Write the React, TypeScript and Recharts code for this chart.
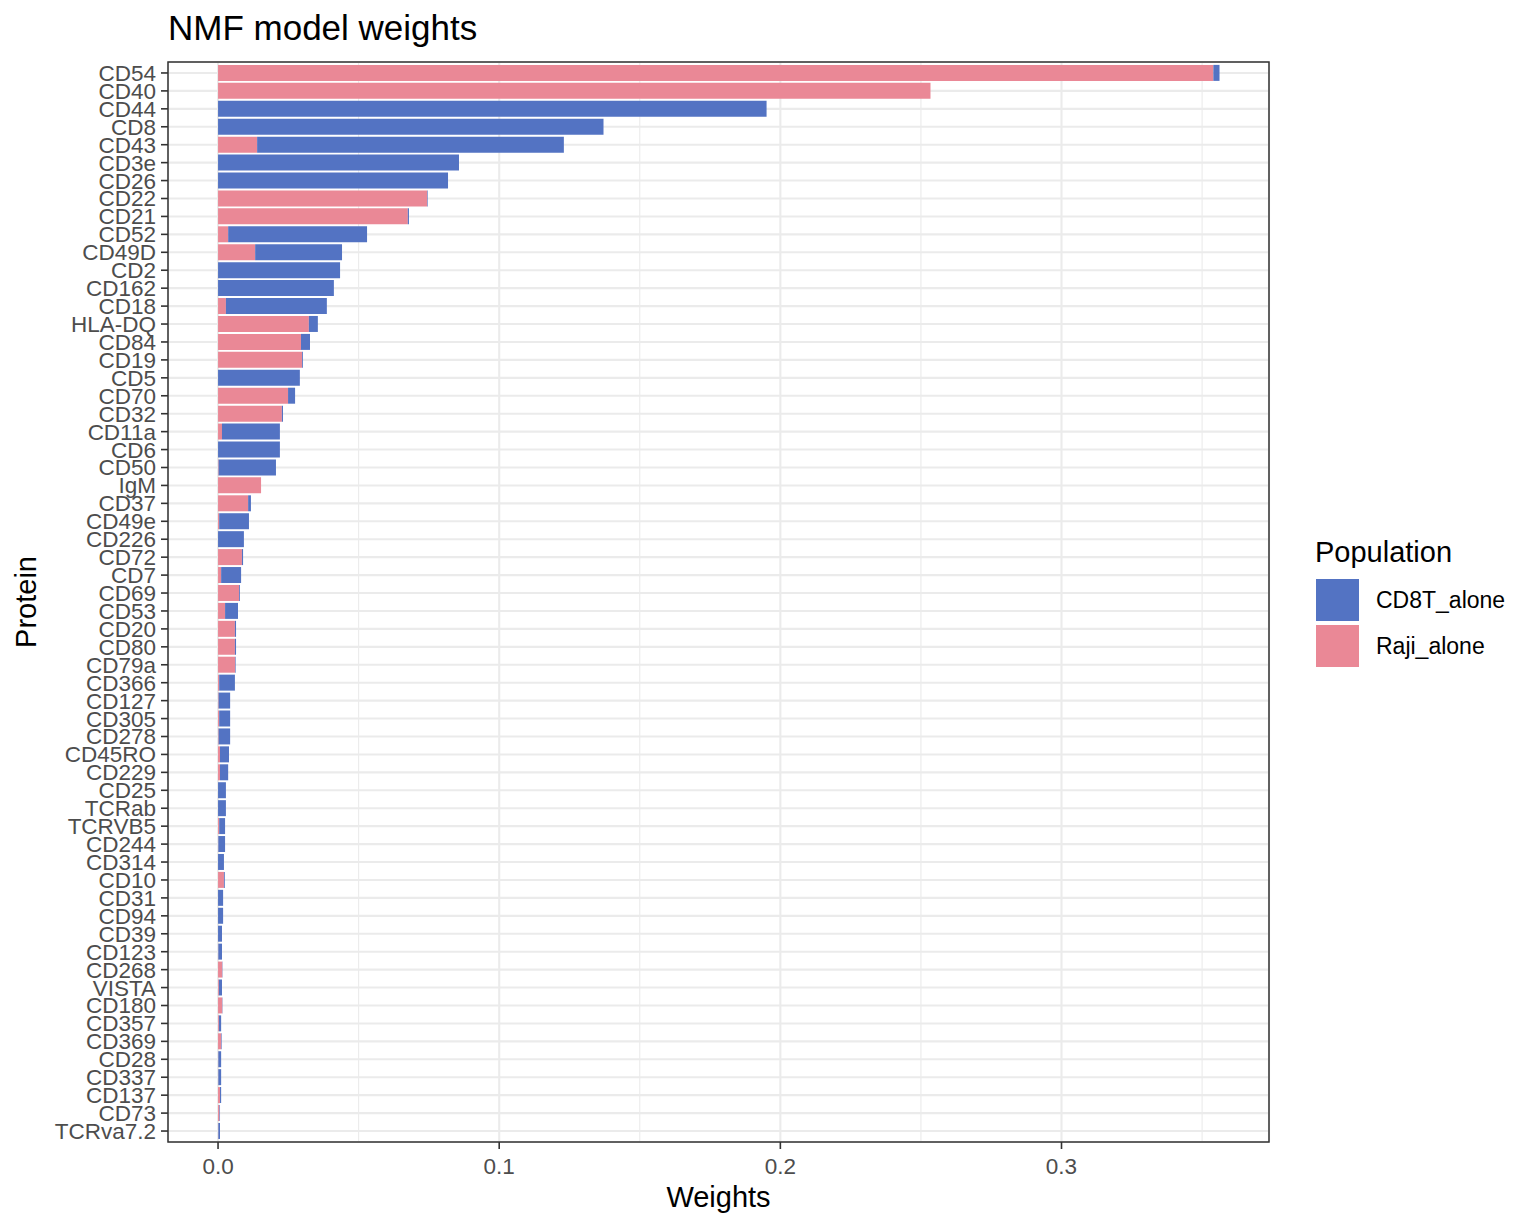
import React from 'react';
import { BarChart, Bar, XAxis, YAxis, CartesianGrid } from 'recharts';

const proteins = [
  'CD54', 'CD40', 'CD44', 'CD8', 'CD43', 'CD3e', 'CD26', 'CD22', 'CD21', 'CD52',
  'CD49D', 'CD2', 'CD162', 'CD18', 'HLA-DQ', 'CD84', 'CD19', 'CD5', 'CD70', 'CD32',
  'CD11a', 'CD6', 'CD50', 'IgM', 'CD37', 'CD49e', 'CD226', 'CD72', 'CD7', 'CD69',
  'CD53', 'CD20', 'CD80', 'CD79a', 'CD366', 'CD127', 'CD305', 'CD278', 'CD45RO', 'CD229',
  'CD25', 'TCRab', 'TCRVB5', 'CD244', 'CD314', 'CD10', 'CD31', 'CD94', 'CD39', 'CD123',
  'CD268', 'VISTA', 'CD180', 'CD357', 'CD369', 'CD28', 'CD337', 'CD137', 'CD73', 'TCRva7.2',
];

const rajiAlone = [
  0.354, 0.2534, 0, 0, 0.0139, 0, 0, 0.0744, 0.0675, 0.0036,
  0.0132, 0, 0, 0.0028, 0.0323, 0.0295, 0.0299, 0, 0.0249, 0.0227,
  0.0014, 0, 0.0002, 0.0153, 0.0107, 0.0004, 0, 0.0085, 0.0011, 0.0075,
  0.0025, 0.006, 0.006, 0.0061, 0.0004, 0.0002, 0.0004, 0.0002, 0.0007, 0.0007,
  0, 0, 0.0004, 0.0001, 0, 0.0021, 0, 0, 0, 0.0001,
  0.0015, 0.0003, 0.0015, 0.0003, 0.0011, 0.0001, 0.0001, 0.0007, 0.0005, 0.0001,
];

const cd8tAlone = [
  0.0022, 0, 0.1951, 0.1371, 0.1091, 0.0857, 0.0818, 0.0002, 0.0004, 0.0494,
  0.0309, 0.0434, 0.0412, 0.0359, 0.0032, 0.0032, 0.0003, 0.0291, 0.0025, 0.0004,
  0.0206, 0.022, 0.0204, 0, 0.001, 0.0106, 0.0092, 0.0004, 0.0071, 0.0003,
  0.0046, 0.0004, 0.0004, 0.0002, 0.0056, 0.0041, 0.0039, 0.0041, 0.0032, 0.0029,
  0.0028, 0.0028, 0.0021, 0.0024, 0.0021, 0.0003, 0.0018, 0.0018, 0.0014, 0.0013,
  0.0001, 0.0011, 0.0001, 0.0008, 0.0002, 0.001, 0.001, 0.0004, 0.0002, 0.0006,
];

const xTicks = [0, 0.1, 0.2, 0.3];
const xMinorTicks = [0.05, 0.15, 0.25, 0.35];
const xDomain = [-0.0178, 0.3738];

const seriesNames = ['CD8T_alone', 'Raji_alone'];
const BLUE = '#5373C3';
const PINK = '#EA8896';

const data = proteins.map((name, i) => ({
  name,
  raji: rajiAlone[i],
  cd8t: cd8tAlone[i],
}));

const FONT = '"Liberation Sans", Arial, Helvetica, sans-serif';

export default function App() {
  return (
    <div style={{ position: 'absolute', left: 0, top: 0, width: 1536, height: 1228, background: '#fff', fontFamily: FONT }}>
      <BarChart
        width={1536}
        height={1228}
        data={data}
        layout="vertical"
        margin={{ top: 62, right: 267, bottom: 0, left: 0 }}
        barCategoryGap="5%"
        style={{ fontFamily: FONT }}
      >
        <CartesianGrid horizontal={false} verticalValues={xMinorTicks} stroke="#EBEBEB" strokeWidth={1.1} />
        <CartesianGrid stroke="#EBEBEB" strokeWidth={2.1} />
        <XAxis
          type="number"
          domain={xDomain}
          ticks={xTicks}
          allowDataOverflow
          height={86}
          axisLine={false}
          tickSize={7}
          tickMargin={9}
          tickLine={{ stroke: '#333333', strokeWidth: 1.6 }}
          tick={{ fill: '#4D4D4D', fontSize: 22.5, fontFamily: FONT }}
          tickFormatter={(v: number) => v.toFixed(1)}
          label={{ value: 'Weights', position: 'insideBottom', offset: 21, fill: '#000', fontSize: 29, style: { fontFamily: FONT, fontSize: 29, fill: '#000' } }}
        />
        <YAxis
          type="category"
          dataKey="name"
          width={168}
          interval={0}
          padding={{ top: 2, bottom: 2 }}
          axisLine={false}
          tickSize={7}
          tickMargin={5}
          tickLine={{ stroke: '#333333', strokeWidth: 1.6 }}
          tick={{ fill: '#4D4D4D', fontSize: 22.5, fontFamily: FONT }}
          label={{ value: 'Protein', angle: -90, position: 'insideLeft', offset: 26, fill: '#000', fontSize: 29, style: { textAnchor: 'middle', fontFamily: FONT, fontSize: 29, fill: '#000' } }}
        />
        <Bar dataKey="raji" name="Raji_alone" stackId="a" fill={PINK} isAnimationActive={false} />
        <Bar dataKey="cd8t" name="CD8T_alone" stackId="a" fill={BLUE} isAnimationActive={false} />
      </BarChart>
      <svg
        width={1536}
        height={1228}
        style={{ position: 'absolute', left: 0, top: 0, pointerEvents: 'none' }}
        fontFamily={FONT}
      >
        <rect x={168} y={62} width={1101} height={1080} fill="none" stroke="#333333" strokeWidth={1.5} />
        <text x={168} y={40} fontSize={35} fill="#000">NMF model weights</text>
        <text x={1315} y={562} fontSize={29} fill="#000">Population</text>
        <rect x={1316} y={579} width={43} height={42} fill={BLUE} />
        <rect x={1316} y={625} width={43} height={42} fill={PINK} />
        <text x={1376} y={608} fontSize={23} fill="#000">{seriesNames[0]}</text>
        <text x={1376} y={654} fontSize={23} fill="#000">{seriesNames[1]}</text>
      </svg>
    </div>
  );
}
